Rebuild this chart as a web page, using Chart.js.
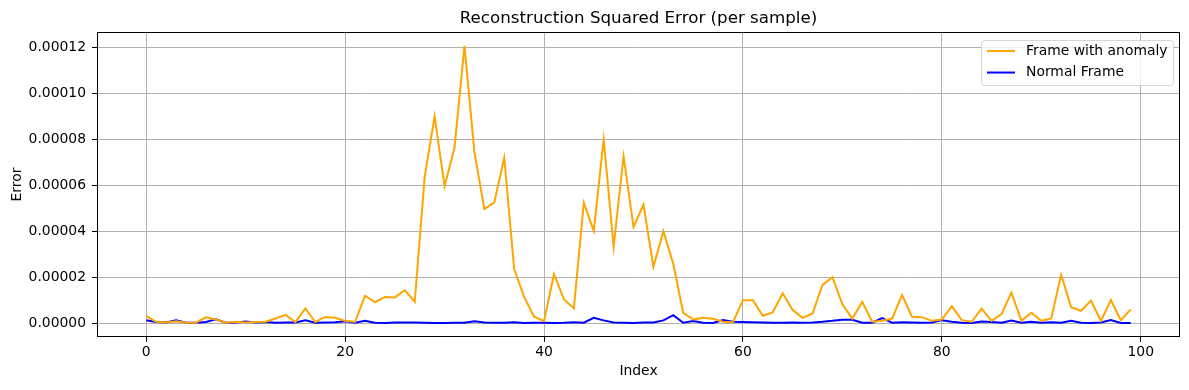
<!DOCTYPE html>
<html>
<head>
<meta charset="utf-8">
<script src="https://cdn.jsdelivr.net/npm/chart.js@4.4.1/dist/chart.umd.min.js"></script>
<style>
  html, body { margin: 0; padding: 0; background: #fff; }
</style>
</head>
<body>
<canvas id="graficoError" width="1189" height="390"></canvas>
<script>
// valores en unidades de 1e-6
const indices = Array.from({ length: 100 }, (_, i) => i);
const anomalyE6 = [
  3.2, 0.6, 0.3, 0.8, 0.2, 0.2, 2.5, 1.6, 0.2, 0.6, 0.3, 0.5, 0.6, 2, 3.6, 0.5, 6.4, 0.5, 2.7, 2.3,
  1, 0.5, 11.9, 9.1, 11.4, 11.2, 14.3, 9.3, 63.6, 90, 59.6, 76.4, 120.6, 74.5, 49.6, 52.5, 71.9, 23.5, 11.4, 2.8,
  0.9, 21.3, 10.4, 6.4, 52.3, 40.1, 79.9, 33.2, 72.6, 41.9, 51.6, 24.5, 40, 25.7, 4.5, 1.6, 2.3, 1.9, 0.6, 0.4,
  10, 10, 3.2, 4.7, 13, 5.7, 2.3, 4.2, 16.6, 20, 8.2, 2, 9.3, 0.6, 1, 2, 12.2, 2.8, 2.6, 1,
  1.6, 7.4, 1.3, 0.6, 6.3, 1, 3.9, 13.3, 1, 4.5, 1, 2, 21, 6.9, 5.4, 9.8, 1, 10, 1.3, 6
];
const normalE6 = [
  1.3, 0.5, 0.3, 1.2, 0.2, 0.2, 0.5, 1.7, 0.2, 0.3, 0.7, 0.3, 0.5, 0.2, 0.3, 0.3, 1.2, 0.2, 0.3, 0.4,
  0.8, 0.2, 1, 0.2, 0.1, 0.3, 0.3, 0.3, 0.2, 0.1, 0.1, 0.2, 0.2, 0.8, 0.3, 0.2, 0.2, 0.4, 0.1, 0.2,
  0.2, 0.1, 0.2, 0.4, 0.2, 2.3, 1.2, 0.3, 0.2, 0.1, 0.3, 0.3, 1.2, 3.5, 0.2, 0.9, 0.2, 0.1, 1.4, 0.6,
  0.5, 0.4, 0.3, 0.2, 0.2, 0.3, 0.2, 0.3, 0.6, 1, 1.5, 1.5, 0.2, 0.2, 2.2, 0.2, 0.4, 0.3, 0.2, 0.3,
  1.3, 0.6, 0.2, 0.1, 0.7, 0.5, 0.2, 1.1, 0.2, 0.6, 0.2, 0.4, 0.2, 1, 0.2, 0.1, 0.3, 1.3, 0.1, 0.1
];
const xTicks = [0, 20, 40, 60, 80, 100];
const yTicks = [0, 0.00002, 0.00004, 0.00006, 0.00008, 0.00010, 0.00012];

const fuente = '"DejaVu Sans", sans-serif';
const tam = 13.9;

const puntos = (serie) => serie.map((v, i) => ({ x: indices[i], y: v * 1e-6 }));

// marco del area de trazado (los cuatro lados)
const marco = {
  id: 'marco',
  afterDatasetsDraw(chart) {
    const { ctx, chartArea: a } = chart;
    ctx.save();
    ctx.strokeStyle = '#000';
    ctx.lineWidth = 1;
    ctx.strokeRect(Math.round(a.left) + 0.5, Math.round(a.top) + 0.5,
      Math.round(a.right - a.left) - 1, Math.round(a.bottom - a.top) - 1);
    ctx.restore();
  }
};

// leyenda dentro del grafico, como matplotlib
const leyenda = {
  id: 'leyenda',
  afterDraw(chart) {
    const { ctx, chartArea: a } = chart;
    const w = 192, h = 45;
    const x = a.right - 7 - w, y = a.top + 8;
    ctx.save();
    ctx.beginPath();
    ctx.roundRect(x + 0.5, y + 0.5, w, h, 3);
    ctx.fillStyle = 'rgba(255,255,255,0.8)';
    ctx.fill();
    ctx.strokeStyle = '#d6d6d6';
    ctx.lineWidth = 1;
    ctx.stroke();
    ctx.font = tam + 'px ' + fuente;
    ctx.textBaseline = 'middle';
    chart.data.datasets.forEach((ds, i) => {
      const ly = y + 11 + i * 21.5;
      ctx.beginPath();
      ctx.moveTo(x + 6, ly);
      ctx.lineTo(x + 34, ly);
      ctx.strokeStyle = ds.borderColor;
      ctx.lineWidth = 2;
      ctx.stroke();
      ctx.fillStyle = '#000';
      ctx.fillText(ds.label, x + 45, ly);
    });
    ctx.restore();
  }
};

const ctxError = document.getElementById('graficoError');
new Chart(ctxError, {
  type: 'line',
  data: {
    datasets: [{
      label: 'Frame with anomaly',
      data: puntos(anomalyE6),
      borderColor: '#ffa500',
      borderWidth: 2,
      pointRadius: 0,
      tension: 0
    }, {
      label: 'Normal Frame',
      data: puntos(normalE6),
      borderColor: '#0000ff',
      borderWidth: 2,
      pointRadius: 0,
      tension: 0
    }]
  },
  options: {
    responsive: false,
    animation: false,
    layout: { padding: { left: 0, right: 9, top: 0, bottom: 0 } },
    plugins: {
      legend: { display: false },
      tooltip: { enabled: false },
      title: {
        display: true,
        fullSize: false,
        text: 'Reconstruction Squared Error (per sample)',
        color: '#000',
        font: { family: fuente, size: 16.7, weight: 'normal', lineHeight: 1.2 },
        padding: { top: 9, bottom: 3 }
      }
    },
    scales: {
      x: {
        type: 'linear',
        min: -4.95,
        max: 103.95,
        afterBuildTicks: (s) => { s.ticks = xTicks.map(v => ({ value: v })); },
        afterFit: (s) => { s.height = 53; },
        ticks: {
          color: '#000',
          font: { family: fuente, size: tam },
          padding: 2,
          maxRotation: 0,
          callback: (v) => String(v)
        },
        grid: { color: '#b0b0b0', lineWidth: 1, tickColor: '#000', tickLength: 5 },
        border: { display: false },
        title: {
          display: true,
          text: 'Index',
          color: '#000',
          font: { family: fuente, size: tam },
          padding: { top: 0, bottom: 10 }
        }
      },
      y: {
        min: -6.03e-6,
        max: 126.63e-6,
        afterBuildTicks: (s) => { s.ticks = yTicks.map(v => ({ value: v })); },
        afterFit: (s) => { s.width = 97; },
        ticks: {
          color: '#000',
          font: { family: fuente, size: tam },
          padding: 6,
          callback: (v) => Number(v).toFixed(5)
        },
        grid: { color: '#b0b0b0', lineWidth: 1, tickColor: '#000', tickLength: 5 },
        border: { display: false },
        title: {
          display: true,
          text: 'Error',
          color: '#000',
          font: { family: fuente, size: tam },
          padding: { top: 9, bottom: 0 }
        }
      }
    }
  },
  plugins: [marco, leyenda]
});
</script>
</body>
</html>
